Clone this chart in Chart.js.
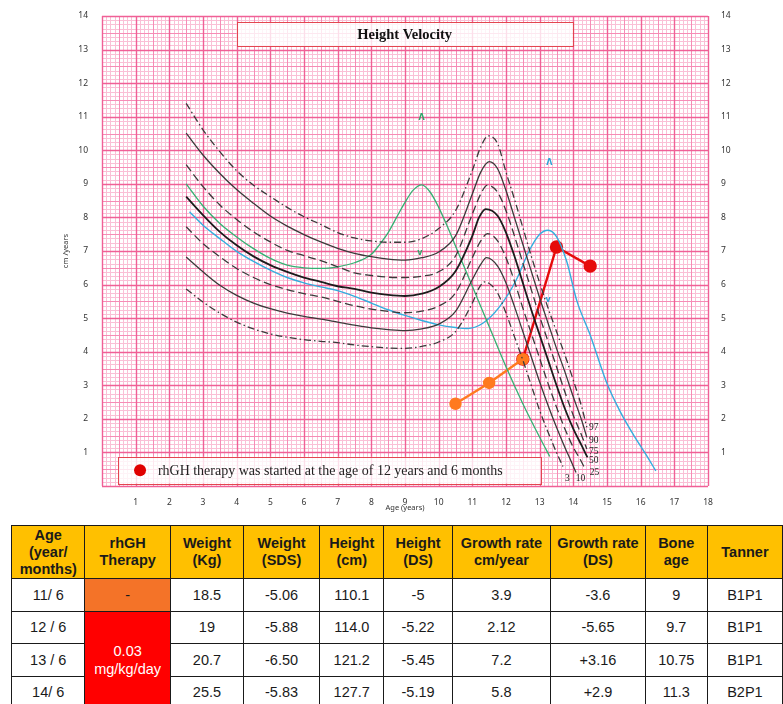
<!DOCTYPE html>
<html>
<head>
<meta charset="utf-8">
<title>Height Velocity</title>
<script src="https://cdn.jsdelivr.net/npm/chart.js@4.4.1/dist/chart.umd.min.js"></script>
<style>
  body { margin: 0; background: #fff; }
  #wrap { position: relative; width: 783px; height: 704px; overflow: hidden; }
  #myChart { position: absolute; left: 0; top: 0; }
  #dataTable { position: absolute; left: 11px; top: 525px; border-collapse: collapse; table-layout: fixed;
    font-family: "Liberation Sans", Arial, sans-serif; color: #1a1a1a; }
  #dataTable th, #dataTable td { border: 1.5px solid #1a1a1a; text-align: center; padding: 0; }
  #dataTable th { background: #ffc000; font-weight: bold; font-size: 14.5px; line-height: 17px; }
  #dataTable thead tr { height: 53px; }
  #dataTable tbody tr { height: 32.5px; }
  #dataTable td { font-size: 14.5px; }
  .noTherapy { background: #f47328; }
  .therapy { background: #ff0000; color: #fff; line-height: 18px; }
</style>
</head>
<body>
<div id="wrap">
  <canvas id="myChart" width="783" height="517"></canvas>
  <table id="dataTable"></table>
</div>
<script>
// percentile curves (age in years, velocity in cm/year)
const baseAges = [2.5, 3, 3.5, 4, 4.5, 5, 5.5, 6, 6.5, 7, 7.5, 8, 8.5, 9, 9.5, 10, 10.5, 11];

const p97Ages = baseAges.concat([11.25, 11.47, 11.75, 12, 12.25, 12.5, 12.75, 13, 13.25, 13.5, 13.75, 14, 14.25, 14.4]);
const p97Values = [11.4, 10.61, 9.96, 9.39, 8.96, 8.62, 8.3, 8.02, 7.79, 7.55, 7.39, 7.3, 7.26, 7.26, 7.37, 7.67, 8.2, 9.4,
  10.1, 10.43, 10.2, 9.35, 8.55, 7.7, 6.85, 6.05, 5.3, 4.6, 3.9, 3.15, 2.35, 1.75];

const p90Ages = baseAges.concat([11.25, 11.5, 11.75, 12, 12.25, 12.5, 12.75, 13, 13.25, 13.5, 13.75, 14, 14.25, 14.4]);
const p90Values = [10.51, 9.86, 9.31, 8.83, 8.42, 8.04, 7.74, 7.49, 7.27, 7.08, 6.93, 6.83, 6.76, 6.73, 6.8, 6.97, 7.45, 8.7,
  9.35, 9.66, 9.45, 8.8, 8.0, 7.2, 6.4, 5.6, 4.85, 4.1, 3.4, 2.65, 1.95, 1.45];

const p75Ages = baseAges.concat([11.25, 11.45, 11.75, 12, 12.25, 12.5, 12.75, 13, 13.25, 13.5, 13.75, 14, 14.25, 14.4]);
const p75Values = [9.57, 8.92, 8.37, 7.94, 7.57, 7.27, 7.02, 6.86, 6.71, 6.53, 6.35, 6.27, 6.22, 6.21, 6.25, 6.38, 6.85, 8.1,
  8.7, 8.96, 8.75, 8.2, 7.45, 6.65, 5.85, 5.05, 4.3, 3.55, 2.8, 2.1, 1.5, 1.1];

const p50Ages = baseAges.concat([11.2, 11.4, 11.75, 12, 12.25, 12.5, 12.75, 13, 13.25, 13.5, 13.75, 14, 14.25, 14.42]);
const p50Values = [8.62, 8.07, 7.57, 7.17, 6.84, 6.58, 6.38, 6.21, 6.08, 5.95, 5.87, 5.76, 5.69, 5.66, 5.73, 5.93, 6.4, 7.45,
  8.0, 8.25, 8.05, 7.55, 6.85, 6.05, 5.25, 4.5, 3.75, 3.0, 2.3, 1.7, 1.2, 0.85];

const p25Ages = baseAges.concat([11.25, 11.45, 11.75, 12, 12.25, 12.5, 12.75, 13, 13.25, 13.5, 13.75, 14, 14.2, 14.33]);
const p25Values = [7.72, 7.22, 6.83, 6.48, 6.21, 6.0, 5.85, 5.73, 5.63, 5.5, 5.37, 5.27, 5.2, 5.16, 5.21, 5.36, 5.75, 6.8,
  7.3, 7.52, 7.3, 6.8, 6.1, 5.3, 4.55, 3.8, 3.05, 2.35, 1.7, 1.15, 0.8, 0.55];

const p10Ages = baseAges.concat([11.25, 11.42, 11.75, 12, 12.25, 12.5, 12.75, 13, 13.25, 13.5, 13.75, 13.95, 14.08]);
const p10Values = [6.82, 6.38, 5.98, 5.68, 5.45, 5.28, 5.15, 5.05, 4.97, 4.88, 4.79, 4.71, 4.66, 4.63, 4.68, 4.82, 5.2, 6.15,
  6.6, 6.8, 6.55, 6.05, 5.35, 4.6, 3.85, 3.1, 2.4, 1.75, 1.15, 0.7, 0.4];

const p3Ages = baseAges.concat([11.2, 11.37, 11.6, 11.75, 12, 12.25, 12.5, 12.75, 13, 13.25, 13.5, 13.69]);
const p3Values = [5.87, 5.48, 5.15, 4.88, 4.68, 4.53, 4.43, 4.36, 4.31, 4.27, 4.2, 4.15, 4.11, 4.1, 4.16, 4.29, 4.6, 5.45,
  5.9, 6.08, 5.95, 5.75, 5.15, 4.45, 3.75, 3.0, 2.25, 1.6, 1.0, 0.58];

// early (green) and late (blue) maturer curves
const earlyAges = [2.5, 3, 3.5, 4, 4.5, 5, 5.5, 6, 6.5, 7, 7.5, 8, 8.25, 8.5, 8.75, 9, 9.25, 9.5, 9.75, 10,
  10.25, 10.5, 11, 11.5, 12, 12.5, 13, 13.3];
const earlyValues = [9.0, 8.34, 7.82, 7.42, 7.07, 6.78, 6.58, 6.5, 6.48, 6.53, 6.65, 6.9, 7.2, 7.55, 8.0, 8.45, 8.82, 8.97, 8.75, 8.3,
  7.75, 7.15, 5.95, 4.75, 3.55, 2.45, 1.45, 0.88];

const lateAges = [2.6, 3, 3.5, 4, 4.5, 5, 5.5, 6, 6.5, 7, 7.5, 8, 8.5, 9, 9.5, 10, 10.5, 10.85, 11.3, 11.8,
  12.3, 12.7, 13, 13.25, 13.5, 13.8, 14.1, 14.5, 15, 15.4, 15.8, 16.15, 16.45];
const lateValues = [8.17, 7.77, 7.37, 6.99, 6.69, 6.43, 6.21, 6.05, 5.93, 5.82, 5.65, 5.45, 5.25, 5.08, 4.93, 4.8, 4.72, 4.69, 4.84, 5.33,
  6.13, 7.03, 7.5, 7.62, 7.43, 6.7, 5.53, 4.5, 3.05, 2.2, 1.5, 0.95, 0.45];

// patient: before therapy (orange) and under rhGH (red)
const beforeAges = [10.5, 11.5, 12.5];
const beforeValues = [2.45, 3.07, 3.78];
const therapyAges = [12.5, 13.5, 14.5];
const therapyValues = [3.78, 7.12, 6.55];

// percentile names at the curve ends
const pctLabels = ['97', '90', '75', '50', '25', '3', '10'];
const pctLabelAges = [14.61, 14.61, 14.61, 14.61, 14.63, 13.82, 14.21];
const pctLabelValues = [1.73, 1.35, 1.04, 0.75, 0.4, 0.22, 0.22];

// peak range marks on the early / late curves
const peakMarks = ['Λ', 'v', 'Λ', 'v'];
const peakMarkAges = [9.49, 9.44, 13.29, 13.25];
const peakMarkValues = [10.96, 6.93, 9.61, 5.53];

// table under the chart
const tableHeaders = ['Age<br>(year/<br>months)', 'rhGH<br>Therapy', 'Weight<br>(Kg)', 'Weight<br>(SDS)', 'Height<br>(cm)',
  'Height<br>(DS)', 'Growth rate<br>cm/year', 'Growth rate<br>(DS)', 'Bone<br>age', 'Tanner'];
const tableAges = ['11/ 6', '12 / 6', '13 / 6', '14/ 6'];
const tableWeights = ['18.5', '19', '20.7', '25.5'];
const tableWeightSds = ['-5.06', '-5.88', '-6.50', '-5.83'];
const tableHeights = ['110.1', '114.0', '121.2', '127.7'];
const tableHeightDs = ['-5', '-5.22', '-5.45', '-5.19'];
const tableRates = ['3.9', '2.12', '7.2', '5.8'];
const tableRateDs = ['-3.6', '-5.65', '+3.16', '+2.9'];
const tableBoneAges = ['9', '9.7', '10.75', '11.3'];
const tableTanner = ['B1P1', 'B1P1', 'B1P1', 'B2P1'];
const colWidths = [74, 86, 74, 77, 65, 69, 100, 96, 63, 76];

function toPoints(xs, ys) {
    return xs.map(function(a, i) { return {x: a, y: ys[i]}; });
}

function curve(label, xs, ys, color, width, dash) {
    return {
        label: label,
        data: toPoints(xs, ys),
        borderColor: color,
        borderWidth: width,
        borderDash: dash,
        pointRadius: 0,
        fill: false,
        cubicInterpolationMode: 'monotone'
    };
}

const DASHDOT = [7, 3, 1.5, 3];
const DASHED = [8, 4];
const INK = '#3a3a3a';

// pink graph paper, boxes and little labels
const paperPlugin = {
    id: 'paper',
    beforeDraw: function(chart) {
        const ctx = chart.ctx, a = chart.chartArea, xs = chart.scales.x, ys = chart.scales.y;
        ctx.save();
        ctx.fillStyle = '#fff';
        ctx.fillRect(0, 0, chart.width, chart.height);
        const passes = [
            {test: function(i) { return i % 4 !== 0; }, color: 'rgb(250,192,214)', width: 1},
            {test: function(i) { return i % 8 === 4; }, color: 'rgb(246,140,182)', width: 1},
            {test: function(i) { return i % 8 === 0; }, color: 'rgb(240,96,150)', width: 1.4}
        ];
        passes.forEach(function(p) {
            ctx.strokeStyle = p.color;
            ctx.lineWidth = p.width;
            ctx.beginPath();
            for (let i = 0; i <= 18 * 8; i++) {
                if (!p.test(i)) continue;
                const px = Math.round(xs.getPixelForValue(i / 8)) + 0.5;
                ctx.moveTo(px, a.top);
                ctx.lineTo(px, a.bottom);
            }
            for (let j = 0; j <= 14 * 8; j++) {
                if (!p.test(j)) continue;
                const py = Math.round(ys.getPixelForValue(j / 8)) + 0.5;
                ctx.moveTo(a.left, py);
                ctx.lineTo(a.right, py);
            }
            ctx.stroke();
        });
        ctx.restore();
    },
    beforeDatasetsDraw: function(chart) {
        const ctx = chart.ctx, xs = chart.scales.x, ys = chart.scales.y;
        ctx.save();
        // title box
        let l = xs.getPixelForValue(4.0), r = xs.getPixelForValue(13.98);
        let t = ys.getPixelForValue(13.82), b = ys.getPixelForValue(13.1);
        ctx.fillStyle = 'rgba(255,255,255,0.8)';
        ctx.fillRect(l, t, r - l, b - t);
        ctx.strokeStyle = '#e3454f';
        ctx.lineWidth = 1;
        ctx.strokeRect(Math.round(l) + 0.5, Math.round(t) + 0.5, Math.round(r - l), Math.round(b - t));
        ctx.fillStyle = '#111';
        ctx.font = 'bold 14px "Liberation Serif", "Times New Roman", serif';
        let w = ctx.measureText('Height Velocity').width;
        ctx.font = 'bold ' + (14 * 95 / w).toFixed(2) + 'px "Liberation Serif", "Times New Roman", serif';
        ctx.textAlign = 'center';
        ctx.textBaseline = 'middle';
        ctx.fillText('Height Velocity', (l + r) / 2, (t + b) / 2 + 1);

        // legend box
        l = xs.getPixelForValue(0.47); r = xs.getPixelForValue(13.03);
        t = ys.getPixelForValue(0.87); b = ys.getPixelForValue(0.07);
        ctx.fillStyle = 'rgba(255,255,255,0.8)';
        ctx.fillRect(l, t, r - l, b - t);
        ctx.strokeStyle = '#e3454f';
        ctx.strokeRect(Math.round(l) + 0.5, Math.round(t) + 0.5, Math.round(r - l), Math.round(b - t));
        const cy = (t + b) / 2;
        ctx.fillStyle = '#e00000';
        ctx.beginPath();
        ctx.arc(xs.getPixelForValue(1.13), cy, 6, 0, Math.PI * 2);
        ctx.fill();
        const txt = 'rhGH therapy was started at the age of 12 years and 6 months';
        ctx.font = '13px "Liberation Serif", "Times New Roman", serif';
        w = ctx.measureText(txt).width;
        ctx.font = (13 * 345 / w).toFixed(2) + 'px "Liberation Serif", "Times New Roman", serif';
        ctx.fillStyle = '#222';
        ctx.textAlign = 'left';
        ctx.fillText(txt, xs.getPixelForValue(1.66), cy + 1);
        ctx.restore();
    },
    afterDatasetsDraw: function(chart) {
        const ctx = chart.ctx, xs = chart.scales.x, ys = chart.scales.y;
        ctx.save();
        ctx.textAlign = 'center';
        ctx.textBaseline = 'middle';
        ctx.fillStyle = '#222';
        ctx.font = '9.5px "Liberation Serif", serif';
        pctLabels.forEach(function(s, i) {
            ctx.fillText(s, xs.getPixelForValue(pctLabelAges[i]), ys.getPixelForValue(pctLabelValues[i]));
        });
        ctx.font = 'bold 8px "DejaVu Sans", sans-serif';
        peakMarks.forEach(function(s, i) {
            ctx.fillStyle = i < 2 ? '#2fa86a' : '#2aa6d6';
            ctx.fillText(s, xs.getPixelForValue(peakMarkAges[i]), ys.getPixelForValue(peakMarkValues[i]));
        });
        ctx.restore();
    }
};

window.onload = function() {
    const tickFont = {family: '"Noto Sans", "Open Sans", sans-serif', size: 8.5};
    const hideZero = function(v) { return v === 0 ? '' : v; };
    const ctx = document.getElementById('myChart');
    const myChart = new Chart(ctx, {
        type: 'line',
        data: {
            datasets: [
                curve('97', p97Ages, p97Values, INK, 1.3, DASHDOT),
                curve('90', p90Ages, p90Values, INK, 1.3, []),
                curve('75', p75Ages, p75Values, INK, 1.3, DASHED),
                curve('50', p50Ages, p50Values, '#1c1c1c', 1.8, []),
                curve('25', p25Ages, p25Values, INK, 1.3, DASHED),
                curve('10', p10Ages, p10Values, INK, 1.3, []),
                curve('3', p3Ages, p3Values, INK, 1.3, DASHDOT),
                curve('early', earlyAges, earlyValues, '#35b072', 1.3, []),
                curve('late', lateAges, lateValues, '#33aede', 1.4, []),
                {
                    label: 'before therapy',
                    data: toPoints(beforeAges, beforeValues),
                    borderColor: '#ff7a1f',
                    backgroundColor: '#ff7a1f',
                    borderWidth: 2.4,
                    pointRadius: 5,
                    tension: 0
                },
                {
                    label: 'rhGH',
                    data: toPoints(therapyAges, therapyValues),
                    borderColor: '#e60a0a',
                    backgroundColor: '#e60a0a',
                    borderWidth: 2.4,
                    pointRadius: 5.5,
                    tension: 0
                }
            ]
        },
        options: {
            responsive: false,
            animation: false,
            devicePixelRatio: 1,
            events: [],
            layout: {padding: {left: 58, right: 45, top: 16, bottom: 0}},
            plugins: {legend: {display: false}, tooltip: {enabled: false}},
            scales: {
                x: {
                    type: 'linear', position: 'bottom', min: 0, max: 18,
                    grid: {display: false}, border: {display: false},
                    ticks: {stepSize: 1, callback: hideZero, font: tickFont, color: '#333', padding: 3, maxRotation: 0, autoSkip: false},
                    title: {display: true, text: 'Age (years)', color: '#333', font: {family: '"Noto Sans", sans-serif', size: 7.5}, padding: {top: 0, bottom: 4.5}},
                    afterFit: function(scale) { scale.height = 31; }
                },
                y: {
                    type: 'linear', position: 'left', min: 0, max: 14,
                    grid: {display: false}, border: {display: false},
                    ticks: {stepSize: 1, callback: hideZero, font: tickFont, color: '#333', padding: 6},
                    title: {display: true, text: 'cm /years', color: '#333', font: {family: '"Noto Sans", sans-serif', size: 7.5}, padding: {top: 3.5, bottom: 0}},
                    afterFit: function(scale) { scale.width = 44; }
                },
                y2: {
                    type: 'linear', position: 'right', min: 0, max: 14,
                    grid: {display: false}, border: {display: false},
                    ticks: {stepSize: 1, callback: hideZero, font: tickFont, color: '#333', padding: 5},
                    afterFit: function(scale) { scale.width = 30; }
                }
            }
        },
        plugins: [paperPlugin]
    });

    // build the table from the arrays above
    var html = '<colgroup>' + colWidths.map(function(w) { return '<col style="width:' + w + 'px">'; }).join('') + '</colgroup>';
    html += '<thead><tr>' + tableHeaders.map(function(h) { return '<th>' + h + '</th>'; }).join('') + '</tr></thead><tbody>';
    for (let i = 0; i < tableAges.length; i++) {
        html += '<tr><td>' + tableAges[i] + '</td>';
        if (i === 0) html += '<td class="noTherapy">-</td>';
        if (i === 1) html += '<td class="therapy" rowspan="3">0.03<br>mg/kg/day</td>';
        html += '<td>' + tableWeights[i] + '</td><td>' + tableWeightSds[i] + '</td><td>' + tableHeights[i] + '</td>' +
            '<td>' + tableHeightDs[i] + '</td><td>' + tableRates[i] + '</td><td>' + tableRateDs[i] + '</td>' +
            '<td>' + tableBoneAges[i] + '</td><td>' + tableTanner[i] + '</td></tr>';
    }
    html += '</tbody>';
    document.getElementById('dataTable').innerHTML = html;
}
</script>
</body>
</html>
